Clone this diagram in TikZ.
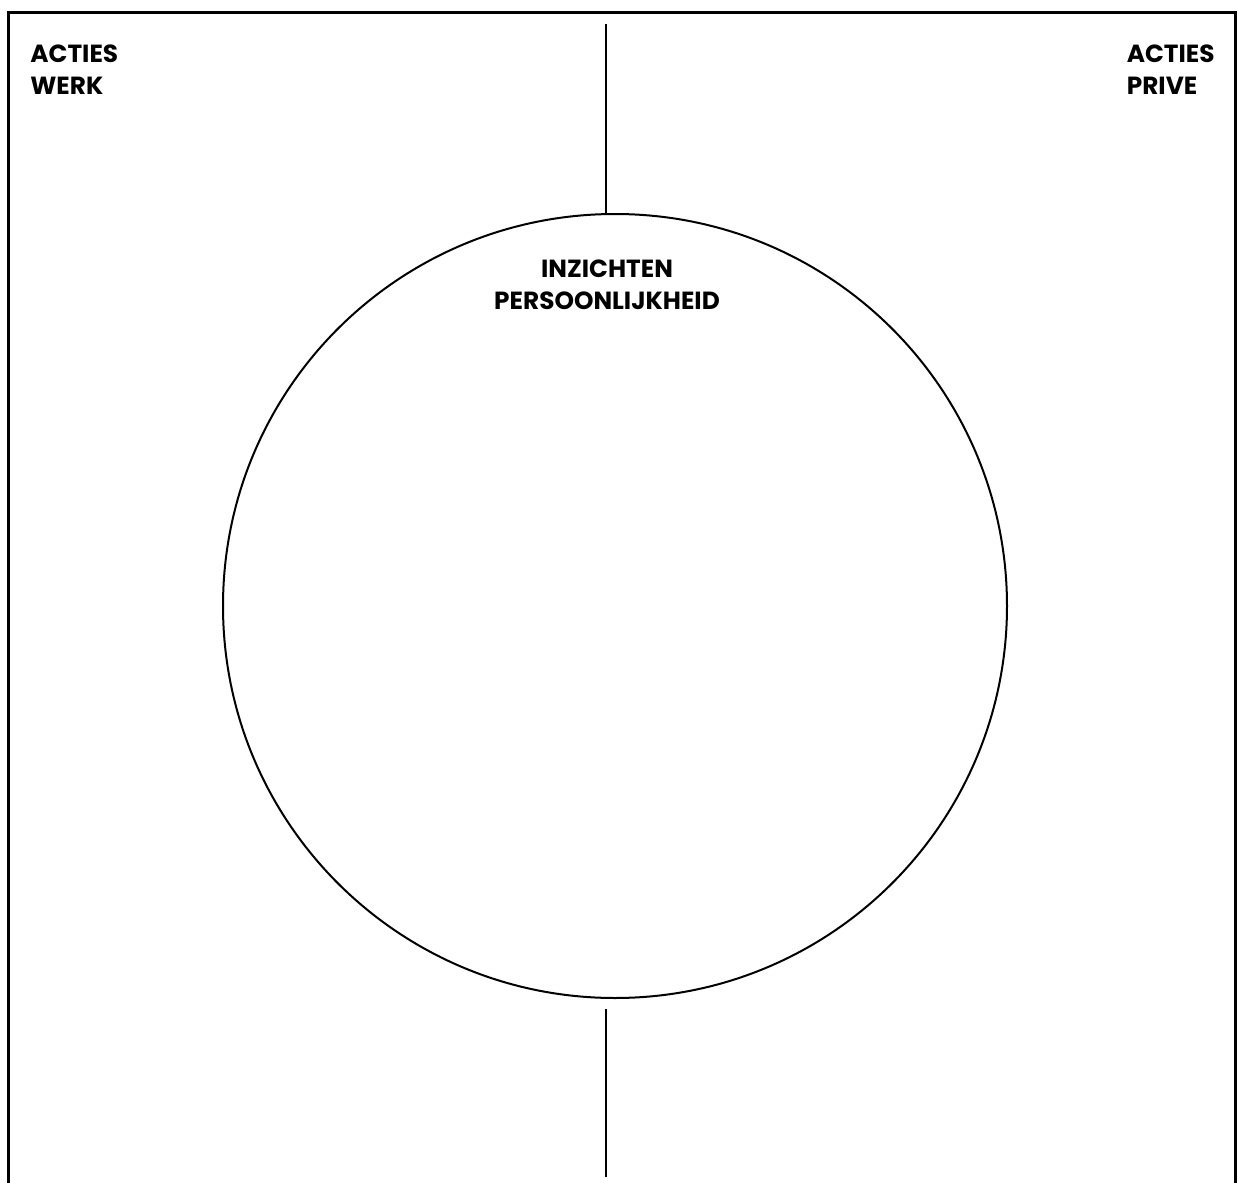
\documentclass[tikz,border=0pt]{standalone}
\usepackage{fontspec}
\setmainfont{Poppins}
\usetikzlibrary{positioning}

\begin{document}
\begin{tikzpicture}[x=0.5pt,y=-0.5pt]

\def\framewidth{1.5pt}
\def\corerad{392}

\tikzset{line/.style={draw,line width=0.8pt}}
\tikzset{frame/.style={draw,line width=\framewidth}}
\tikzset{textnode/.style={inner sep=0pt,font=\bfseries\fontsize{12.4}{16}\selectfont}}
\tikzset{core/.style={circle,line width=1pt,draw,inner sep=0pt,minimum size=2*\corerad*0.5pt}}

\useasboundingbox (0,0) rectangle (1238,1183);

% open frame, no bottom side
\path[frame] (8,1190) -- (8,12) -- (1235,12) -- (1235,1190);

\node[core] (core) at (615,606) {};

\node[textnode,align=left,anchor=base west] (werk) at (30,94) {ACTIES\\WERK};
\node[textnode,align=left,anchor=base east] (prive) at (1215,94) {ACTIES\\PRIVE};
\node[textnode,align=center,anchor=base] (inzicht) at (607,309) {INZICHTEN\\PERSOONLIJKHEID};

\coordinate (topend) at (606,24);
\coordinate (lowstart) at (606,1009);
\coordinate (lowend) at (606,1177);

\path[line] (topend) to (topend |- core.north);
\path[line] (lowstart) to (lowend);

\end{tikzpicture}
\end{document}
